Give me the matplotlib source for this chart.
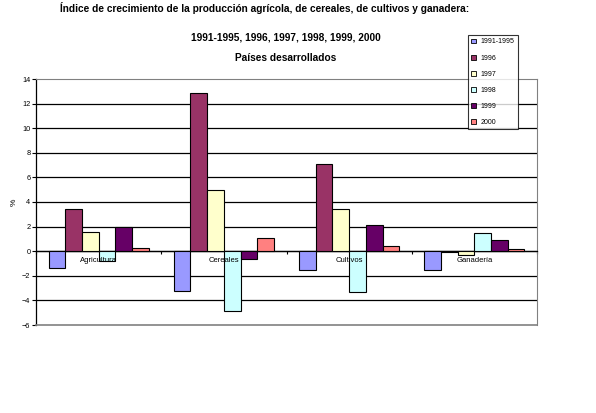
import matplotlib.pyplot as plt
import numpy as np

plt.rcParams['font.family'] = ['Liberation Sans', 'DejaVu Sans']

categorias = ['Agricultura', 'Cereales', 'Cultivos', 'Ganadería']
series = ['1991-1995', '1996', '1997', '1998', '1999', '2000']
v_9195 = [-1.4, -3.2, -1.5, -1.55]
v_1996 = [3.4, 12.9, 7.1, -0.08]
v_1997 = [1.6, 5.0, 3.4, -0.3]
v_1998 = [-0.8, -4.9, -3.3, 1.45]
v_1999 = [1.95, -0.65, 2.15, 0.9]
v_2000 = [0.3, 1.1, 0.4, 0.15]
colores = ['#9999FF', '#993366', '#FFFFCC', '#CCFFFF', '#660066', '#FF8080']

valores = [v_9195, v_1996, v_1997, v_1998, v_1999, v_2000]

fig = plt.figure(figsize=(5.96, 4.13), dpi=100)
ax = fig.add_axes([36/596, 1 - 325/413, (537-36)/596, (325-79)/413])

x = np.arange(len(categorias))
w = 1 / 7.5
for i, (vals, c) in enumerate(zip(valores, colores)):
    ax.bar(x + (i - 2.5) * w, vals, w, color=c, edgecolor='black',
           linewidth=0.8, zorder=3, label=series[i])

ax.set_xlim(-0.5, 3.5)
ax.set_ylim(-6, 14)
ax.set_yticks(np.arange(-6, 15, 2))
ax.tick_params(axis='y', labelsize=5.3, length=3, width=0.8, pad=1)
for t in range(-4, 14, 2):
    ax.axhline(t, color='black', lw=0.9, zorder=1)

# eje x sobre el cero
ax.spines['bottom'].set_position(('data', 0))
ax.spines['bottom'].set_linewidth(0.9)
ax.set_xticks(np.arange(-0.5, 4, 1))
ax.set_xticklabels([])
ax.tick_params(axis='x', length=2.5, width=0.8, direction='out')
for s in ['top', 'right']:
    ax.spines[s].set_color('#808080')
ax.spines['left'].set_linewidth(0.9)
ax.axhline(-6, color='#808080', lw=1.2, zorder=4, clip_on=False)
for i, cat in enumerate(categorias):
    ax.text(i, -0.75, cat, ha='center', va='center', fontsize=5.5, zorder=6)

ax.set_ylabel('%', fontsize=6, labelpad=3)

fig.text(265/596, 1 - 8/413, 'Índice de crecimiento de la producción agrícola, de cereales, de cultivos y ganadera:',
         ha='center', va='center', fontsize=7.3, fontweight='bold')
fig.text(286/596, 1 - 37/413, '1991-1995, 1996, 1997, 1998, 1999, 2000',
         ha='center', va='center', fontsize=7.3, fontweight='bold')
fig.text(286/596, 1 - 58/413, 'Países desarrollados',
         ha='center', va='center', fontsize=7.3, fontweight='bold')

leg = fig.legend(loc='upper left', bbox_to_anchor=(468/596, 1 - 35/413),
                 fontsize=5, frameon=True, fancybox=False, edgecolor='black',
                 handlelength=0.7, handleheight=0.7, labelspacing=1.3,
                 borderpad=0.5, handletextpad=0.6, borderaxespad=0)
leg.get_frame().set_linewidth(0.8)
for h in leg.legend_handles:
    h.set_linewidth(0.6)

fig.savefig('out.png', dpi=100)
